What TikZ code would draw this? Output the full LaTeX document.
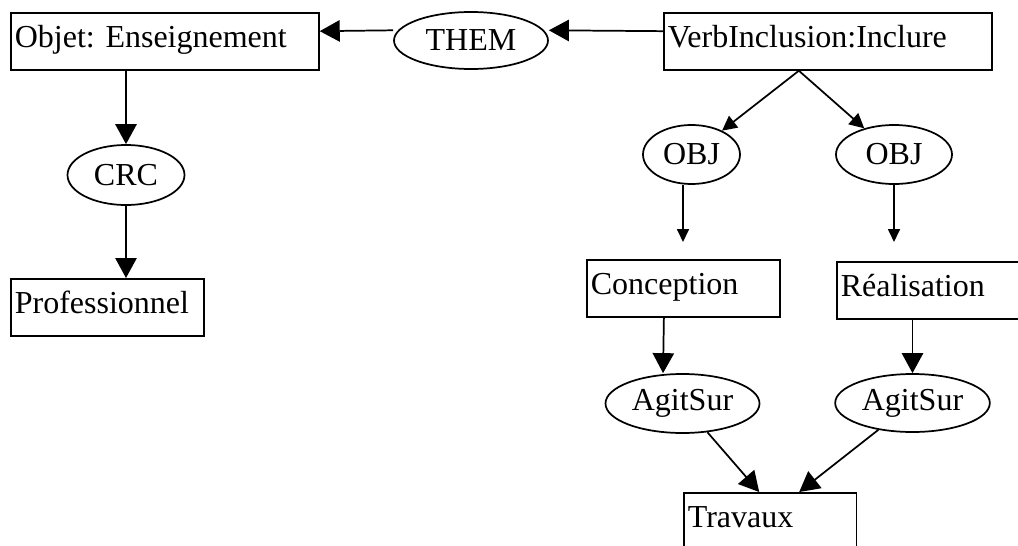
\documentclass[tikz,border=0pt]{standalone}
\usepackage{fontspec}
\setmainfont{Liberation Serif}
\usetikzlibrary{shapes.geometric,arrows.meta}

\begin{document}
\begin{tikzpicture}[x=0.75pt,y=0.75pt,yscale=-1,xscale=1,
  every node/.style={font=\fontsize{24}{28}\selectfont\frenchspacing},
  concept/.style={draw, rectangle, line width=1.3pt, anchor=north west, align=left, inner xsep=3pt, inner ysep=0pt, text height=16pt, text depth=6.5pt, minimum height=42.75pt},
  rel/.style={draw, ellipse, line width=1.3pt, inner sep=0pt},
  arr/.style={line width=1.3pt, -{Triangle[length=15pt,width=16pt]}},
  midarr/.style={line width=1.3pt, -{Triangle[length=11pt,width=11pt]}},
  smallarr/.style={line width=1.3pt, -{Triangle[length=9.75pt,width=9pt]}}]
\useasboundingbox (0,0) rectangle (1018,546);

% Text Node
\node[concept, text width=225pt] (objet) at (10,12) {Objet: Enseignement};
% Text Node
\node[rel, minimum width=115.5pt, minimum height=42.75pt] (them) at (471,40.5) {THEM};
% Text Node
\node[concept, text width=240pt] (verb) at (663,12) {VerbInclusion:Inclure};
% Text Node
\node[rel, minimum width=87.75pt, minimum height=45pt] (crc) at (126,175) {CRC};
% Text Node
\node[concept, text width=138.75pt] (prof) at (10,278) {Professionnel};
% Text Node
\node[rel, minimum width=72.75pt, minimum height=44.25pt] (objL) at (691.5,154.5) {OBJ};
% Text Node
\node[rel, minimum width=87pt, minimum height=44.25pt] (objR) at (894,154.5) {OBJ};
% Text Node
\node[concept, text width=138.75pt] (conc) at (586,259) {Conception};
% Text Node
\node[concept, text width=144pt] (real) at (836,261) {Réalisation};
% Text Node
\node[rel, minimum width=115.5pt, minimum height=44.25pt] (agitL) at (682.5,403.5) {AgitSur};
% Text Node
\node[rel, minimum width=116pt, minimum height=43.5pt] (agitR) at (912.5,403) {AgitSur};
% Text Node
\node[concept, text width=123.4pt] (trav) at (683,492) {Travaux};

\coordinate (objLend) at (683,242);
\coordinate (objRend) at (894,242);

% Connection
\draw[arr] ([yshift=-7.65pt]verb.west) -- ([yshift=-7.65pt]them.east);
% Connection
\draw[arr] ([yshift=-7.65pt]them.west) -- ([yshift=-7.65pt]objet.east);
% Connection
\draw[arr] (crc |- objet.south) -- (crc);
% Connection
\draw[arr] (crc) -- (crc |- prof.north);
% Connection
\draw[midarr] ([xshift=-21.75pt]verb.south) -- (objL);
% Connection
\draw[midarr] ([xshift=-21.75pt]verb.south) -- (objR);
% Connection
\draw[smallarr] (objL.south -| objLend) -- (objLend);
% Connection
\draw[smallarr] (objR) -- (objRend);
% Connection
\draw[arr] ([xshift=-14.6pt]conc.south) -- ([xshift=-14.6pt]agitL.north);
% Connection
\draw[arr] (real.south -| agitR) -- (agitR);
% Connection
\draw[arr] (agitL) -- ([xshift=-8.2pt]trav.north);
% Connection
\draw[arr] (agitR) -- ([xshift=21.8pt]trav.north);

\end{tikzpicture}
\end{document}
